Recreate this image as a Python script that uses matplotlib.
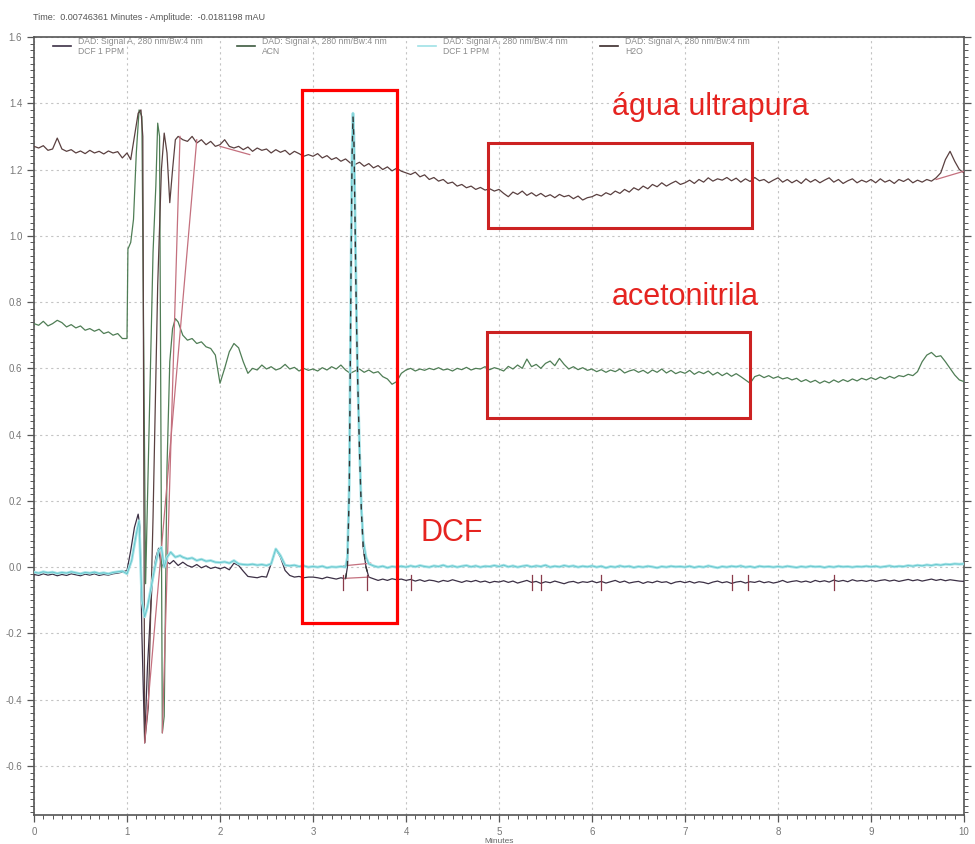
import numpy as np
import matplotlib.pyplot as plt
from matplotlib.patches import Rectangle
from matplotlib.ticker import MultipleLocator, FormatStrFormatter

plt.rcParams['font.family'] = ['Liberation Sans', 'DejaVu Sans']

STEP = 0.05

# ---- H2O (ultrapure water) ----
h2o_pre = [1.27, 1.265, 1.272, 1.258, 1.262, 1.295, 1.262, 1.255, 1.26, 1.25,
           1.256, 1.248, 1.258, 1.25, 1.255, 1.247, 1.256, 1.25, 1.254, 1.235]
h2o_spike_t = [1.00, 1.04, 1.08, 1.12, 1.15, 1.17, 1.19, 1.23, 1.28, 1.33,
               1.37, 1.40, 1.43, 1.46, 1.49, 1.52, 1.55]
h2o_spike_y = [1.25, 1.23, 1.30, 1.37, 1.38, 1.30, -0.53, -0.42, 0.15, 0.85,
               1.20, 1.31, 1.25, 1.10, 1.20, 1.29, 1.30]
h2o_post = [1.29, 1.285, 1.30, 1.28, 1.29, 1.275, 1.285, 1.27,
            1.275, 1.29, 1.27, 1.265, 1.27, 1.26, 1.268, 1.255, 1.265, 1.258,
            1.262, 1.25, 1.26, 1.252, 1.258, 1.245, 1.255, 1.248, 1.24, 1.245,
            1.24, 1.248, 1.235, 1.242, 1.23, 1.236, 1.225, 1.232, 1.22, 1.215,
            1.222, 1.21, 1.218, 1.205, 1.212, 1.2, 1.208, 1.196, 1.204, 1.195,
            1.19, 1.185, 1.192, 1.178, 1.184, 1.17, 1.176, 1.165, 1.17, 1.158,
            1.162, 1.15, 1.155, 1.145, 1.15, 1.14, 1.146, 1.138, 1.142, 1.135,
            1.14, 1.128, 1.118, 1.132, 1.125, 1.135, 1.122, 1.13, 1.12, 1.128,
            1.118, 1.124, 1.115, 1.125, 1.118, 1.122, 1.112, 1.12, 1.108, 1.115,
            1.118, 1.125, 1.12, 1.13, 1.124, 1.135, 1.128, 1.14, 1.132, 1.145,
            1.138, 1.15, 1.142, 1.155, 1.148, 1.16, 1.15, 1.158, 1.165, 1.155,
            1.16, 1.168, 1.158, 1.17, 1.162, 1.175, 1.165, 1.172, 1.168, 1.176,
            1.166, 1.174, 1.162, 1.172, 1.164, 1.176, 1.166, 1.17, 1.16, 1.168,
            1.175, 1.162, 1.17, 1.16, 1.168, 1.158, 1.172, 1.162, 1.17, 1.16,
            1.168, 1.175, 1.162, 1.17, 1.158, 1.166, 1.172, 1.16, 1.168, 1.162,
            1.17, 1.16, 1.172, 1.162, 1.168, 1.158, 1.17, 1.164, 1.172, 1.16,
            1.168, 1.162, 1.17, 1.165, 1.175, 1.19, 1.23, 1.255, 1.225, 1.20,
            1.19]

# ---- ACN ----
acn_pre = [0.735, 0.73, 0.742, 0.728, 0.735, 0.745, 0.738, 0.725, 0.732, 0.722,
           0.728, 0.715, 0.72, 0.712, 0.718, 0.705, 0.71, 0.70, 0.705, 0.69]
acn_spike_t = [1.00, 1.01, 1.04, 1.07, 1.10, 1.13, 1.16, 1.20, 1.24, 1.28,
               1.31, 1.33, 1.35, 1.38, 1.40, 1.43, 1.46, 1.49, 1.52, 1.55]
acn_spike_y = [0.69, 0.96, 0.98, 1.05, 1.25, 1.38, 1.36, -0.05, 0.45, 0.95,
               1.15, 1.34, 1.30, -0.50, -0.45, 0.30, 0.62, 0.72, 0.75, 0.74]
acn_post = [0.70, 0.685, 0.69, 0.675, 0.68, 0.665, 0.66, 0.64,
            0.555, 0.60, 0.65, 0.675, 0.662, 0.62, 0.585, 0.60, 0.595, 0.61,
            0.598, 0.605, 0.595, 0.60, 0.612, 0.598, 0.603, 0.592, 0.60, 0.594,
            0.598, 0.592, 0.602, 0.595, 0.605, 0.598, 0.61, 0.595, 0.585, 0.592,
            0.598, 0.588, 0.595, 0.586, 0.59, 0.575, 0.568, 0.552, 0.56, 0.585,
            0.595, 0.60, 0.592, 0.598, 0.594, 0.60, 0.596, 0.602, 0.595, 0.598,
            0.592, 0.60, 0.596, 0.603, 0.595, 0.60, 0.598, 0.605, 0.596, 0.602,
            0.598, 0.592, 0.606, 0.598, 0.61, 0.60, 0.628, 0.605, 0.612, 0.60,
            0.615, 0.622, 0.608, 0.63, 0.612, 0.598, 0.605, 0.596, 0.602, 0.594,
            0.598, 0.59, 0.596, 0.588, 0.595, 0.59, 0.598, 0.586, 0.592, 0.596,
            0.588, 0.594, 0.585, 0.595, 0.588, 0.598, 0.586, 0.594, 0.584, 0.59,
            0.585, 0.594, 0.582, 0.59, 0.584, 0.592, 0.58, 0.588, 0.578, 0.586,
            0.576, 0.584, 0.575, 0.565, 0.555, 0.575, 0.58, 0.572, 0.578, 0.57,
            0.575, 0.568, 0.572, 0.565, 0.57, 0.56, 0.566, 0.558, 0.564, 0.555,
            0.562, 0.556, 0.565, 0.558, 0.566, 0.56, 0.568, 0.562, 0.57, 0.565,
            0.572, 0.566, 0.574, 0.568, 0.576, 0.57, 0.578, 0.575, 0.582, 0.578,
            0.59, 0.62, 0.64, 0.648, 0.635, 0.638, 0.62, 0.60, 0.58, 0.565,
            0.56]

# ---- DCF 1 PPM (cyan run) ----
dcf_pre = [-0.015, -0.018, -0.014, -0.017, -0.015, -0.019, -0.016, -0.018, -0.014, -0.017,
           -0.02, -0.016, -0.018, -0.015, -0.019, -0.017, -0.02, -0.016, -0.014, -0.012]
dcf_spike_t = [1.00, 1.05, 1.10, 1.13, 1.16, 1.19, 1.22, 1.26, 1.30, 1.34,
               1.37, 1.40, 1.43, 1.47, 1.52, 1.57]
dcf_spike_y = [-0.02, 0.02, 0.10, 0.14, -0.10, -0.15, -0.12, -0.06, 0.0, 0.05,
               0.06, 0.0, 0.03, 0.045, 0.03, 0.035]
dcf_mid = [0.03, 0.025, 0.028, 0.02, 0.024, 0.018, 0.02, 0.015,
           0.014, 0.016, 0.012, 0.02, 0.01, 0.008, 0.007, 0.009, 0.006, 0.008,
           0.005, 0.01, 0.055, 0.035, 0.006, 0.004, 0.006, 0.002, 0.004, 0.0,
           0.002, 0.0, 0.003, -0.002, 0.001, 0.0, 0.002]
peak_t = [3.35, 3.37, 3.39, 3.40, 3.41, 3.42, 3.43, 3.44, 3.45, 3.46,
          3.47, 3.48, 3.50, 3.52, 3.54, 3.57, 3.60]
dcf_peak = [0.0, 0.03, 0.25, 0.60, 0.95, 1.25, 1.37, 1.30, 1.10, 0.88,
            0.72, 0.58, 0.36, 0.18, 0.08, 0.03, 0.01]
dcf_post = [0.004, 0.0, 0.003, -0.002, 0.002, 0.0, 0.003,
            0.0, 0.004, 0.001, 0.005, 0.002, 0.0, 0.004, 0.002, 0.006, 0.001,
            0.004, 0.0, 0.003, 0.005, 0.001, 0.004, 0.0, 0.003, 0.002, 0.005,
            0.002, 0.006, 0.001, 0.004, 0.0, 0.003, 0.005, 0.001, 0.004, 0.002,
            0.006, 0.0, 0.003, 0.001, 0.005, 0.002, 0.004, 0.0, 0.003, 0.001,
            0.004, 0.0, 0.003, -0.002, 0.002, 0.0, 0.004, 0.001, 0.003, -0.001,
            0.002, 0.0, 0.003, 0.001, -0.002, 0.002, 0.0, 0.003, 0.001, 0.002,
            0.0, 0.003, -0.001, 0.002, 0.0, 0.004, 0.001, -0.002, 0.002, 0.0,
            0.003, 0.001, 0.004, 0.0, 0.002, -0.001, 0.003, 0.001, 0.002, 0.0,
            0.002, 0.0, 0.003, 0.001, -0.001, 0.002, 0.0, 0.003, 0.001, 0.002,
            -0.001, 0.002, 0.0, 0.003, 0.001, 0.002, 0.0, 0.002, 0.001, 0.003,
            0.001, 0.003, 0.0, 0.002, 0.004, 0.001, 0.003, 0.002, 0.005, 0.003,
            0.006, 0.004, 0.007, 0.005, 0.008, 0.006, 0.009, 0.008, 0.01, 0.009,
            0.01]

# ---- DCF 1 PPM (dark run) ----
dcf2_pre = [-0.022, -0.025, -0.02, -0.024, -0.021, -0.026, -0.022, -0.025, -0.02, -0.023,
            -0.026, -0.021, -0.024, -0.02, -0.025, -0.022, -0.024, -0.02, -0.018, -0.015]
dcf2_spike_t = [1.00, 1.04, 1.08, 1.12, 1.14, 1.16, 1.19, 1.22, 1.27, 1.31,
                1.34, 1.37, 1.41, 1.46, 1.50, 1.55]
dcf2_spike_y = [-0.01, 0.05, 0.12, 0.16, 0.12, -0.20, -0.53, -0.30, -0.05, 0.03,
                0.057, 0.0, 0.02, 0.01, 0.02, 0.005]
dcf2_mid = [0.015, 0.005, 0.0, 0.008, -0.002, 0.004, -0.004, 0.0,
            -0.005, 0.0, -0.008, 0.012, 0.005, -0.012, -0.028, -0.03, -0.032, -0.028,
            -0.03, 0.01, 0.055, 0.03, -0.01, -0.025, -0.03, -0.028, -0.032, -0.03,
            -0.03, -0.032, -0.035, -0.03, -0.033, -0.036, -0.032]
dcf2_peak = [-0.035, 0.0, 0.23, 0.58, 0.93, 1.24, 1.36, 1.29, 1.09, 0.87,
             0.71, 0.57, 0.35, 0.17, 0.06, 0.0, -0.03]
dcf2_post = [-0.035, -0.04, -0.036, -0.04, -0.035, -0.038, -0.036,
             -0.04, -0.037, -0.042, -0.038, -0.043, -0.039, -0.041, -0.045, -0.04, -0.043,
             -0.038, -0.042, -0.046, -0.041, -0.044, -0.04, -0.045, -0.042, -0.047, -0.043,
             -0.045, -0.041, -0.046, -0.042, -0.048, -0.044, -0.04, -0.046, -0.043, -0.049,
             -0.044, -0.047, -0.042, -0.046, -0.05, -0.045, -0.043, -0.048, -0.044, -0.046,
             -0.042, -0.047, -0.043, -0.048, -0.044, -0.04, -0.046, -0.042, -0.048, -0.045,
             -0.043, -0.049, -0.044, -0.047, -0.042, -0.046, -0.044, -0.05, -0.045, -0.043,
             -0.047, -0.043, -0.048, -0.044, -0.046, -0.05, -0.045, -0.042, -0.047, -0.044,
             -0.049, -0.045, -0.043, -0.048, -0.044, -0.046, -0.042, -0.047, -0.044, -0.048,
             -0.045, -0.04, -0.046, -0.043, -0.041, -0.045, -0.042, -0.046, -0.04, -0.044,
             -0.041, -0.045, -0.039, -0.043, -0.04, -0.044, -0.038, -0.042, -0.04, -0.043,
             -0.039, -0.043, -0.04, -0.038, -0.042, -0.039, -0.043, -0.04, -0.037, -0.041,
             -0.038, -0.042, -0.039, -0.036, -0.04, -0.037, -0.041, -0.038, -0.04, -0.042,
             -0.043]

# integration baselines and event marks
baselines = [((1.75, 1.29), (1.19, -0.53)),
             ((1.57, 1.30), (1.38, -0.50)),
             ((2.00, 1.27), (2.32, 1.245)),
             ((9.70, 1.17), (10.0, 1.195)),
             ((3.33, 0.004), (3.62, 0.012)),
             ((3.33, -0.034), (3.60, -0.03))]
event_marks = [3.32, 3.58, 4.05, 5.35, 5.45, 6.1, 7.5, 7.68, 8.6]

legend_items = [("DAD: Signal A, 280 nm/Bw:4 nm", "DCF 1 PPM", "#3c3045"),
                ("DAD: Signal A, 280 nm/Bw:4 nm", "ACN", "#3d5a40"),
                ("DAD: Signal A, 280 nm/Bw:4 nm", "DCF 1 PPM", "#9fe2e6"),
                ("DAD: Signal A, 280 nm/Bw:4 nm", "H2O", "#3b2b2b")]


def grid(start, vals):
    return start + STEP * np.arange(len(vals))


def join(*parts):
    t = np.concatenate([p[0] for p in parts])
    y = np.concatenate([np.asarray(p[1], float) for p in parts])
    return t, y


h2o_t, h2o_y = join((grid(0.0, h2o_pre), h2o_pre), (np.array(h2o_spike_t), h2o_spike_y),
                    (grid(1.6, h2o_post), h2o_post))
acn_t, acn_y = join((grid(0.0, acn_pre), acn_pre), (np.array(acn_spike_t), acn_spike_y),
                    (grid(1.6, acn_post), acn_post))
dcf_t, dcf_y = join((grid(0.0, dcf_pre), dcf_pre), (np.array(dcf_spike_t), dcf_spike_y),
                    (grid(1.6, dcf_mid), dcf_mid), (np.array(peak_t), dcf_peak),
                    (grid(3.65, dcf_post), dcf_post))
dcf2_t, dcf2_y = join((grid(0.0, dcf2_pre), dcf2_pre), (np.array(dcf2_spike_t), dcf2_spike_y),
                      (grid(1.6, dcf2_mid), dcf2_mid), (np.array(peak_t), dcf2_peak),
                      (grid(3.65, dcf2_post), dcf2_post))

fig = plt.figure(figsize=(9.75, 8.44), dpi=100)
ax = fig.add_axes([34 / 975, 1 - 815 / 844, 930 / 975, 778 / 844])

ax.plot(dcf2_t, dcf2_y, color="#3c3045", lw=0.9, zorder=3)
ax.plot(dcf_t, dcf_y, color="#a6e4e8", lw=2.0, zorder=4)
ax.plot(dcf_t, dcf_y, color="#62c4ca", lw=0.6, zorder=4)
ax.plot(peak_t, dcf2_peak, color="#333333", lw=1.0, ls=(0, (4, 5)), zorder=5)
ax.plot(acn_t, acn_y, color="#4f7d55", lw=0.9, zorder=3)
ax.plot(h2o_t, h2o_y, color="#5a4040", lw=0.9, zorder=3)

for (x0, y0), (x1, y1) in baselines:
    ax.plot([x0, x1], [y0, y1], color="#c4707e", lw=0.9, zorder=3)
for xm in event_marks:
    ax.plot([xm, xm], [-0.025, -0.07], color="#8a3b4a", lw=0.9, zorder=3)

ax.set_xlim(0, 10)
ax.set_ylim(-0.748, 1.6)
ax.xaxis.set_major_locator(MultipleLocator(1))
ax.xaxis.set_minor_locator(MultipleLocator(0.1))
ax.yaxis.set_major_locator(MultipleLocator(0.2))
ax.yaxis.set_minor_locator(MultipleLocator(0.02))
ax.yaxis.set_major_formatter(FormatStrFormatter('%.1f'))
ax.grid(True, which="major", color="#c4c4c4", ls=(0, (2, 3)), lw=0.8)
ax.tick_params(which="both", direction="out", colors="#555555", labelcolor="#777777",
               labelsize=7, right=True, labelright=True)
ax.tick_params(which="major", length=5, width=0.9)
ax.tick_params(which="minor", length=3, width=0.7)
for s in ax.spines.values():
    s.set_color("#555555")
    s.set_linewidth(1.2)
ax.set_xlabel("Minutes", fontsize=6, color="#666666", labelpad=1)

# legend row across the top
def ax_pos(px, py):
    return (px - 34) / 930, (815 - py) / 778

for (l1, l2, c), lx in zip(legend_items, [53, 237, 418, 600]):
    xa, ya = ax_pos(lx, 46)
    xb, _ = ax_pos(lx + 18, 46)
    ax.plot([xa, xb], [ya, ya], color=c, lw=1.2, transform=ax.transAxes, zorder=6)
    xt, y1 = ax_pos(lx + 25, 42)
    _, y2 = ax_pos(lx + 25, 52)
    ax.text(xt, y1, l1, transform=ax.transAxes, fontsize=6.2, color="#8c8c8c", va="center")
    ax.text(xt, y2, l2, transform=ax.transAxes, fontsize=6.2, color="#8c8c8c", va="center")

fig.text(33 / 975, 1 - 18 / 844, "Time:  0.00746361 Minutes - Amplitude:  -0.0181198 mAU",
         fontsize=6.5, color="#555555", va="center")

# highlighted regions
ax.add_patch(Rectangle((2.882, -0.168), 1.021, 1.608, fill=False, ec="#ff0000", lw=2.3, zorder=7))
ax.add_patch(Rectangle((4.882, 1.024), 2.838, 0.256, fill=False, ec="#cc2222", lw=2.2, zorder=7))
ax.add_patch(Rectangle((4.871, 0.450), 2.829, 0.260, fill=False, ec="#cc2222", lw=2.2, zorder=7))
ax.text(6.215, 1.389, "água ultrapura", color="#e52420", fontsize=22, va="center", zorder=8)
ax.text(6.215, 0.815, "acetonitrila", color="#e52420", fontsize=22, va="center", zorder=8)
ax.text(4.16, 0.103, "DCF", color="#e52420", fontsize=22, va="center", zorder=8)

fig.savefig("out.png", dpi=100)
